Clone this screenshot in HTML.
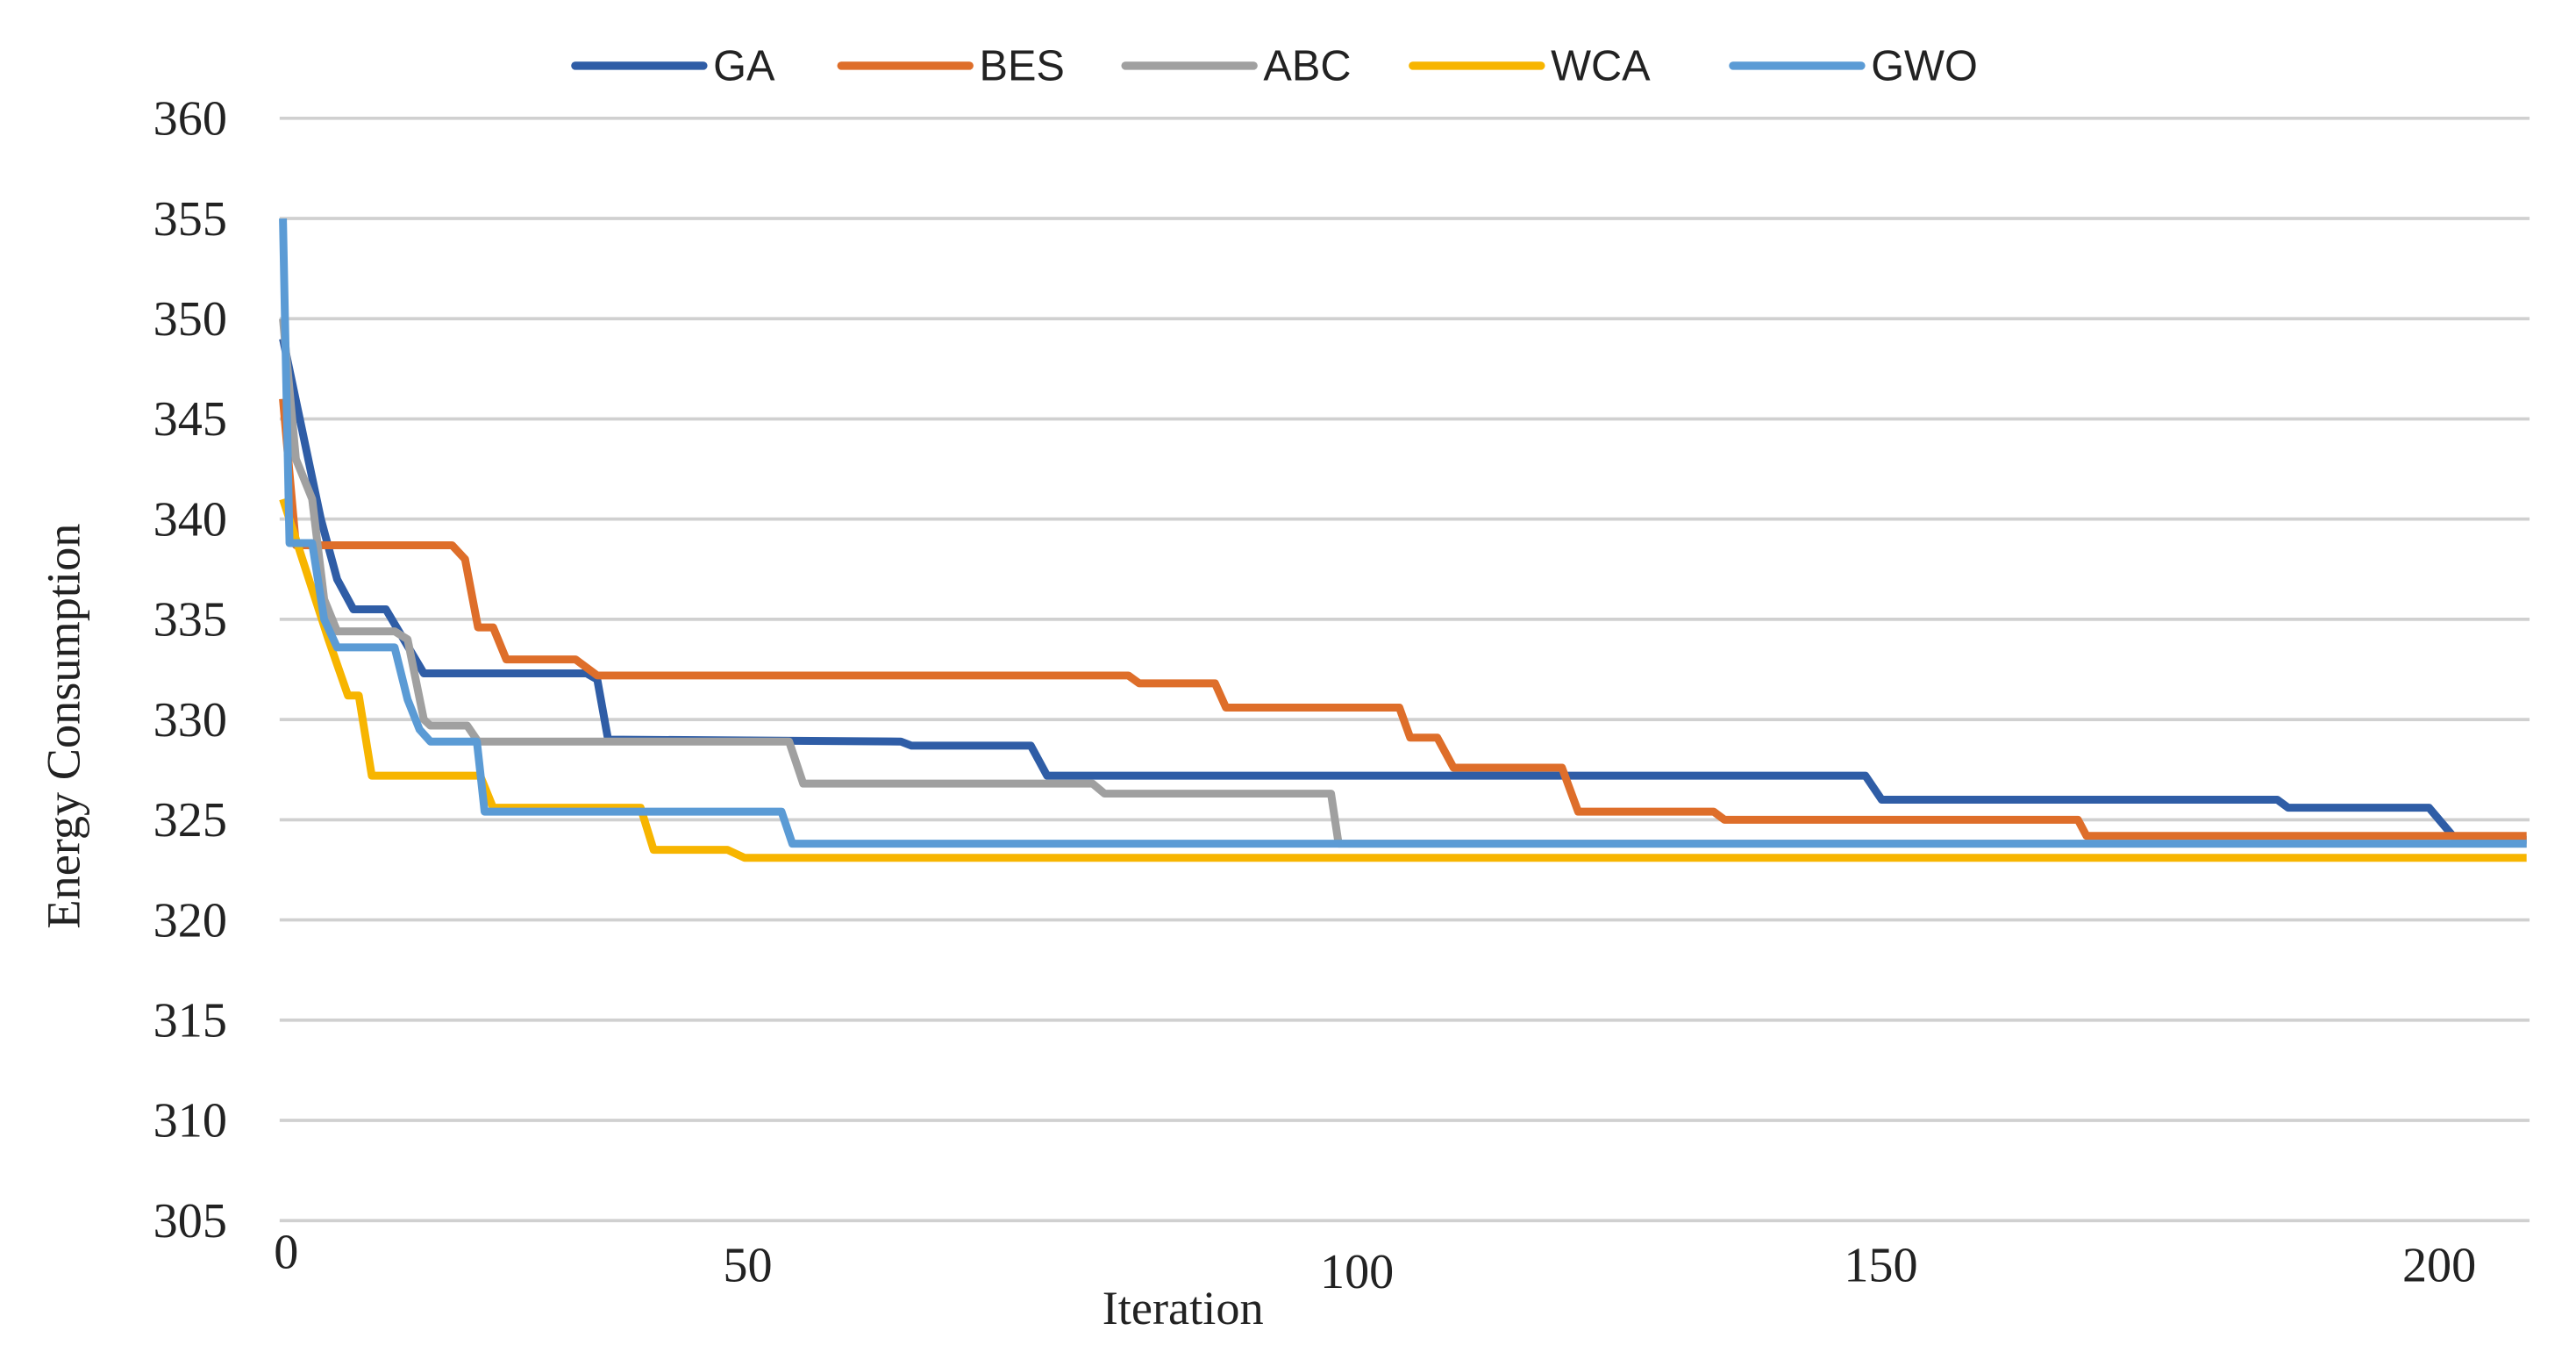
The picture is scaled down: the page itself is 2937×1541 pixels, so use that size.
<!DOCTYPE html>
<html><head><meta charset="utf-8"><style>html,body{margin:0;padding:0;background:#fff}svg{display:block}</style></head>
<body>
<svg id="chart" width="2937" height="1541" viewBox="0 0 1568 823" xmlns="http://www.w3.org/2000/svg">
<rect width="1568" height="823" fill="#fff"/>
<g id="grid"></g><g id="ylabels"></g><g id="xlabels"></g><g id="series"></g><g id="legend"></g>
<text transform="translate(48,442) rotate(-90)" text-anchor="middle" font-family="Liberation Serif, serif" font-size="29" fill="#222">Energy Consumption</text>
<text x="720" y="806" text-anchor="middle" font-family="Liberation Serif, serif" font-size="29" fill="#222">Iteration</text>
</svg>
<script>
const yTicks=[305,310,315,320,325,330,335,340,345,350,355,360];
const xTicks=[0,50,100,150,200];
const seriesNames=["GA","BES","ABC","WCA","GWO"];
const seriesColors=["#2F5DA6","#DE6E2A","#A0A0A0","#F7B500","#5B9BD5"];
const gaIter=[0,3.5,5,6.5,9.5,13,28,29,30,57,58,69,70.5,146,147.5,184,185,198,200.5,207];
const gaVal=[349,340,337,335.5,335.5,332.3,332.3,332,329,328.9,328.7,328.7,327.2,327.2,326,326,325.6,325.6,324,324];
const besIter=[0,1.2,15.6,16.8,18,19.4,20.6,27,29,78,79,86,87,103,104,106.5,108,118,119.5,132,133,165.6,166.4,207];
const besVal=[346,338.7,338.7,338,334.6,334.6,333,333,332.2,332.2,331.8,331.8,330.6,330.6,329.1,329.1,327.6,327.6,325.4,325.4,325,325,324.2,324.2];
const abcIter=[0,1.2,2.7,3.8,5,10.3,11.5,13,13.6,17,18,46.7,48,74.7,75.8,96.7,97.4,207];
const abcVal=[350,343,341,336,334.4,334.4,334,330,329.7,329.7,328.9,328.9,326.8,326.8,326.3,326.3,323.8,323.8];
const wcaIter=[0,1.2,4.2,6,7,8.2,18.2,19.4,33,34.2,41,42.6,207];
const wcaVal=[341,339,334,331.2,331.2,327.2,327.2,325.6,325.6,323.5,323.5,323.1,323.1];
const gwoIter=[0,0.6,2.7,3.8,5,10.3,11.5,12.6,13.6,17.9,18.6,46,47,207];
const gwoVal=[355,338.8,338.8,335,333.6,333.6,331,329.5,328.9,328.9,325.4,325.4,323.8,323.8];
const iters=[gaIter,besIter,abcIter,wcaIter,gwoIter];
const vals=[gaVal,besVal,abcVal,wcaVal,gwoVal];

const NS="http://www.w3.org/2000/svg";
function x(i){return 172+i*6.6;}
function y(v){return 743-(v-305)*12.2;}
function mk(t,a,p){const e=document.createElementNS(NS,t);for(const k in a)e.setAttribute(k,a[k]);p.appendChild(e);return e;}
const grid=document.getElementById('grid'),yl=document.getElementById('ylabels'),xl=document.getElementById('xlabels'),sg=document.getElementById('series'),lg=document.getElementById('legend');
yTicks.forEach(v=>{
  const l=mk('line',{x1:170,x2:1540,y1:y(v),y2:y(v),stroke:'#d0d0d0','stroke-width':2},grid);
  
  
  const t=mk('text',{x:138,y:y(v)+10,'text-anchor':'end','font-family':'Liberation Serif, serif','font-size':30,fill:'#222'},yl);
  t.textContent=v;
  
  
});
const xOff={0:2,50:-47,100:-6,150:-17,200:-7};
xTicks.forEach(v=>{
  const t=mk('text',{x:x(v)+(xOff[v]||0),y:v===0?772:(v===100?784:780),'text-anchor':'middle','font-family':'Liberation Serif, serif','font-size':30,fill:'#222'},xl);
  t.textContent=v;
  
  
});
seriesNames.forEach((n,s)=>{
  const pts=iters[s].map((it,j)=>x(it).toFixed(1)+','+y(vals[s][j]).toFixed(1)).join(' ');
  const p=mk('polyline',{points:pts,fill:'none',stroke:seriesColors[s],'stroke-width':4.8,'stroke-linejoin':'round'},sg);
  
  
});
const legX=[350,512,685,860,1055];
seriesNames.forEach((n,s)=>{
  const g=mk('g',{},lg);
  
  
  mk('line',{x1:legX[s],x2:legX[s]+78,y1:40,y2:40,stroke:seriesColors[s],'stroke-width':5,'stroke-linecap':'round'},g);
  const t=mk('text',{x:legX[s]+84,y:49,'font-family':'Liberation Sans, sans-serif','font-size':26,fill:'#222'},g);
  t.textContent=n;
});
</script>
</body></html>
